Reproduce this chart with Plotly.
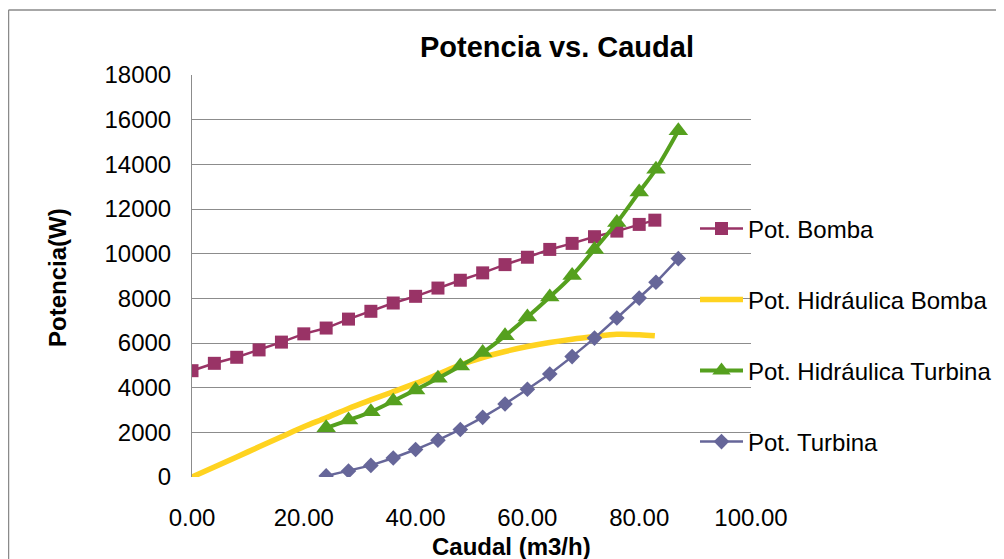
import plotly.graph_objects as go

# caudal (m3/h)
q_bomba = [0, 4, 8, 12, 16, 20, 24, 28, 32, 36, 40, 44, 48, 52, 56, 60, 64, 68, 72, 76, 80, 82.8]
q_turbina = [24, 28, 32, 36, 40, 44, 48, 52, 56, 60, 64, 68, 72, 76, 80, 83, 87]

# potencias (W)
pot_bomba = [4760, 5090, 5360, 5690, 6040, 6410, 6670, 7070, 7420, 7790, 8090,
             8460, 8810, 9140, 9510, 9840, 10190, 10460, 10760, 11010, 11310, 11500]
pot_hid_bomba = [0, 450, 900, 1350, 1800, 2250, 2650, 3070, 3450, 3820, 4190,
                 4600, 5020, 5350, 5620, 5840, 6020, 6170, 6290, 6390, 6370, 6320]
pot_hid_turbina = [2200, 2550, 2920, 3400, 3900, 4420, 4970, 5570, 6320, 7160,
                   8060, 9020, 10190, 11390, 12760, 13780, 15500]
pot_turbina = [50, 270, 520, 850, 1230, 1650, 2130, 2670, 3270, 3930, 4610,
               5390, 6220, 7120, 8010, 8720, 9780]

x_ticks = [0, 20, 40, 60, 80, 100]
x_ticktext = ["0.00", "20.00", "40.00", "60.00", "80.00", "100.00"]

FONT = "Liberation Sans, Arial, sans-serif"
OFF = 8  # page body margin
FW, FH = 1004 - OFF, 559 - OFF
L, R, T, B = 192 - OFF, 751 - OFF, 75 - OFF, 477 - OFF
W, H = R - L, B - T

def px(x):
    # page pixel -> paper coordinate
    return (x - OFF - L) / W

def py(y):
    return (B - (y - OFF)) / H

fig = go.Figure()
fig.add_trace(go.Scatter(x=q_bomba, y=pot_bomba, name="Pot. Bomba", mode="lines+markers",
                         line=dict(color="#993366", width=2.5),
                         marker=dict(symbol="square", size=13, color="#993366"),
                         legend="legend"))
fig.add_trace(go.Scatter(x=q_bomba, y=pot_hid_bomba, name="Pot. Hidráulica Bomba", mode="lines",
                         line=dict(color="#FFD320", width=5.5, shape="spline"),
                         legend="legend2"))
fig.add_trace(go.Scatter(x=q_turbina, y=pot_hid_turbina, name="Pot. Hidráulica Turbina", mode="lines+markers",
                         line=dict(color="#55A01E", width=4, shape="spline"),
                         marker=dict(symbol="triangle-up", size=17, color="#55A01E"),
                         legend="legend3"))
fig.add_trace(go.Scatter(x=q_turbina, y=pot_turbina, name="Pot. Turbina", mode="lines+markers",
                         line=dict(color="#666699", width=2.5),
                         marker=dict(symbol="diamond", size=12, color="#666699"),
                         legend="legend4"))

leg = dict(x=px(695), xanchor="left", yanchor="middle", bgcolor="rgba(0,0,0,0)",
           font=dict(family=FONT, size=24, color="black"), itemwidth=43, visible=True)
fig.update_layout(
    width=FW, height=FH,
    margin=dict(l=L, r=FW - R, t=T, b=FH - B, autoexpand=False),
    paper_bgcolor="white", plot_bgcolor="white",
    font=dict(family=FONT, size=24, color="black"),
    showlegend=True,
    legend=dict(leg, y=py(229)),
    legend2=dict(leg, y=py(300)),
    legend3=dict(leg, y=py(371)),
    legend4=dict(leg, y=py(442)),
    xaxis=dict(range=[0, 100], tickvals=x_ticks, ticktext=x_ticktext, showgrid=False,
               zeroline=False, showline=False, ticklabelstandoff=24,
               tickfont=dict(family=FONT, size=24, color="black")),
    yaxis=dict(range=[0, 18000], dtick=2000, showgrid=True, gridcolor="#8c8c8c", gridwidth=1,
               zeroline=False, showline=True, linecolor="#8c8c8c", linewidth=1,
               ticklabelstandoff=15, tickformat="d",
               tickfont=dict(family=FONT, size=24, color="black")),
    annotations=[
        dict(text="<b>Potencia vs. Caudal</b>", x=px(557), y=py(47), xref="paper", yref="paper",
             showarrow=False, xanchor="center", yanchor="middle",
             font=dict(family=FONT, size=29, color="black")),
        dict(text="<b>Caudal (m3/h)</b>", x=px(511), y=py(546), xref="paper", yref="paper",
             showarrow=False, xanchor="center", yanchor="middle",
             font=dict(family=FONT, size=24, color="black")),
        dict(text="<b>Potencia(W)</b>", x=px(57), y=py(278), xref="paper", yref="paper",
             showarrow=False, xanchor="center", yanchor="middle", textangle=-90,
             font=dict(family=FONT, size=24, color="black")),
    ],
    shapes=[
        dict(type="line", xref="paper", yref="paper", x0=px(8.5), x1=px(1010), y0=py(10), y1=py(10),
             line=dict(color="#8a8a8a", width=1.5)),
        dict(type="line", xref="paper", yref="paper", x0=px(8.5), x1=px(8.5), y0=py(10), y1=py(570),
             line=dict(color="#8a8a8a", width=1.5)),
    ],
)

fig.write_html("out.html")
